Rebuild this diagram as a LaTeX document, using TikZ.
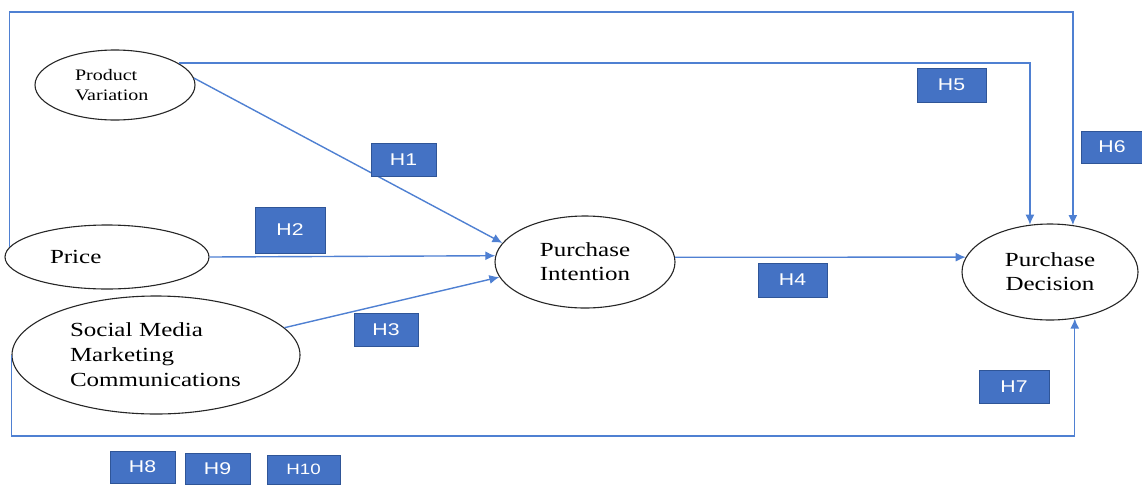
\documentclass[tikz,border=0pt]{standalone}
\usepackage{fontspec}
\setmainfont[FakeStretch=1.25]{Liberation Serif}
\newfontfamily\boxfont[FakeStretch=1.25]{Liberation Sans}
\usetikzlibrary{shapes.geometric,arrows.meta}
\definecolor{linkblue}{HTML}{4F80D2}
\definecolor{boxblue}{HTML}{4472C4}
\definecolor{boxedge}{HTML}{2F5597}
\tikzset{
  construct/.style={ellipse, draw=black!85, line width=1.1pt, inner sep=2pt, fill=white},
  hyp/.style={rectangle, fill=boxblue, draw=boxedge, line width=0.8pt, text=white,
    inner sep=0pt, font=\boxfont\fontsize{17}{20}\selectfont},
  link/.style={draw=linkblue, line width=1.4pt},
  arr/.style={link, -{Latex[length=10pt,width=9pt]}}
}
\begin{document}
\begin{tikzpicture}[x=1pt,y=-1pt]
\useasboundingbox (0,0) rectangle (1142,485);

% constructs
\node[construct, minimum width=160pt, minimum height=70pt, text width=80pt, align=left,
  font=\fontsize{16}{20}\selectfont] (pv) at (115,85) {Product\\Variation};
\node[construct, minimum width=204pt, minimum height=64pt, text width=114pt, align=left,
  font=\fontsize{20}{25}\selectfont] (price) at (107,257) {Price};
\node[construct, minimum width=288pt, minimum height=118pt, text width=172pt, align=left,
  font=\fontsize{20}{25}\selectfont] (sm) at (156,355) {Social Media\\Marketing\\Communications};
\node[construct, minimum width=180pt, minimum height=92pt, align=center,
  font=\fontsize{20}{24}\selectfont] (pi) at (585,262) {Purchase\\Intention};
\node[construct, minimum width=176pt, minimum height=96pt, align=center,
  font=\fontsize{20}{24}\selectfont] (pd) at (1050,272) {Purchase\\Decision};

% routing points for the outer paths
\coordinate (topline) at (500,12);
\coordinate (botline) at (500,436);

% paths
\draw[arr] (pv.5) -- (pi.167);
\draw[arr] (price.east) -- (pi.176);
\draw[arr] (sm.12) -- (pi.190);
\draw[arr] (pi.3) -- (pd.170);
\draw[arr] (pv.19) -| (pd.113);
\draw[arr] (price.174) |- (topline) -| (pd.64);
\draw[arr] (sm.west) |- (botline) -| (pd.298);

% hypothesis labels
\node[hyp, minimum width=65pt, minimum height=33pt] (h1) at (403.5,159.5) {H1};
\node[hyp, minimum width=70pt, minimum height=46pt] (h2) at (290,230) {H2};
\node[hyp, minimum width=64pt, minimum height=33pt] (h3) at (386,329.5) {H3};
\node[hyp, minimum width=69pt, minimum height=34pt] (h4) at (792.5,280) {H4};
\node[hyp, minimum width=69pt, minimum height=34pt] (h5) at (951.5,85) {H5};
\node[hyp, minimum width=62pt, minimum height=32pt] (h6) at (1112,147) {H6};
\node[hyp, minimum width=70pt, minimum height=33pt] (h7) at (1014,386.5) {H7};
\node[hyp, minimum width=65pt, minimum height=32pt] (h8) at (142.5,467) {H8};
\node[hyp, minimum width=65pt, minimum height=31pt] (h9) at (217.5,468.5) {H9};
\node[hyp, minimum width=73pt, minimum height=29pt, font=\boxfont\fontsize{15}{18}\selectfont] (h10) at (303.5,469.5) {H10};
\end{tikzpicture}
\end{document}
